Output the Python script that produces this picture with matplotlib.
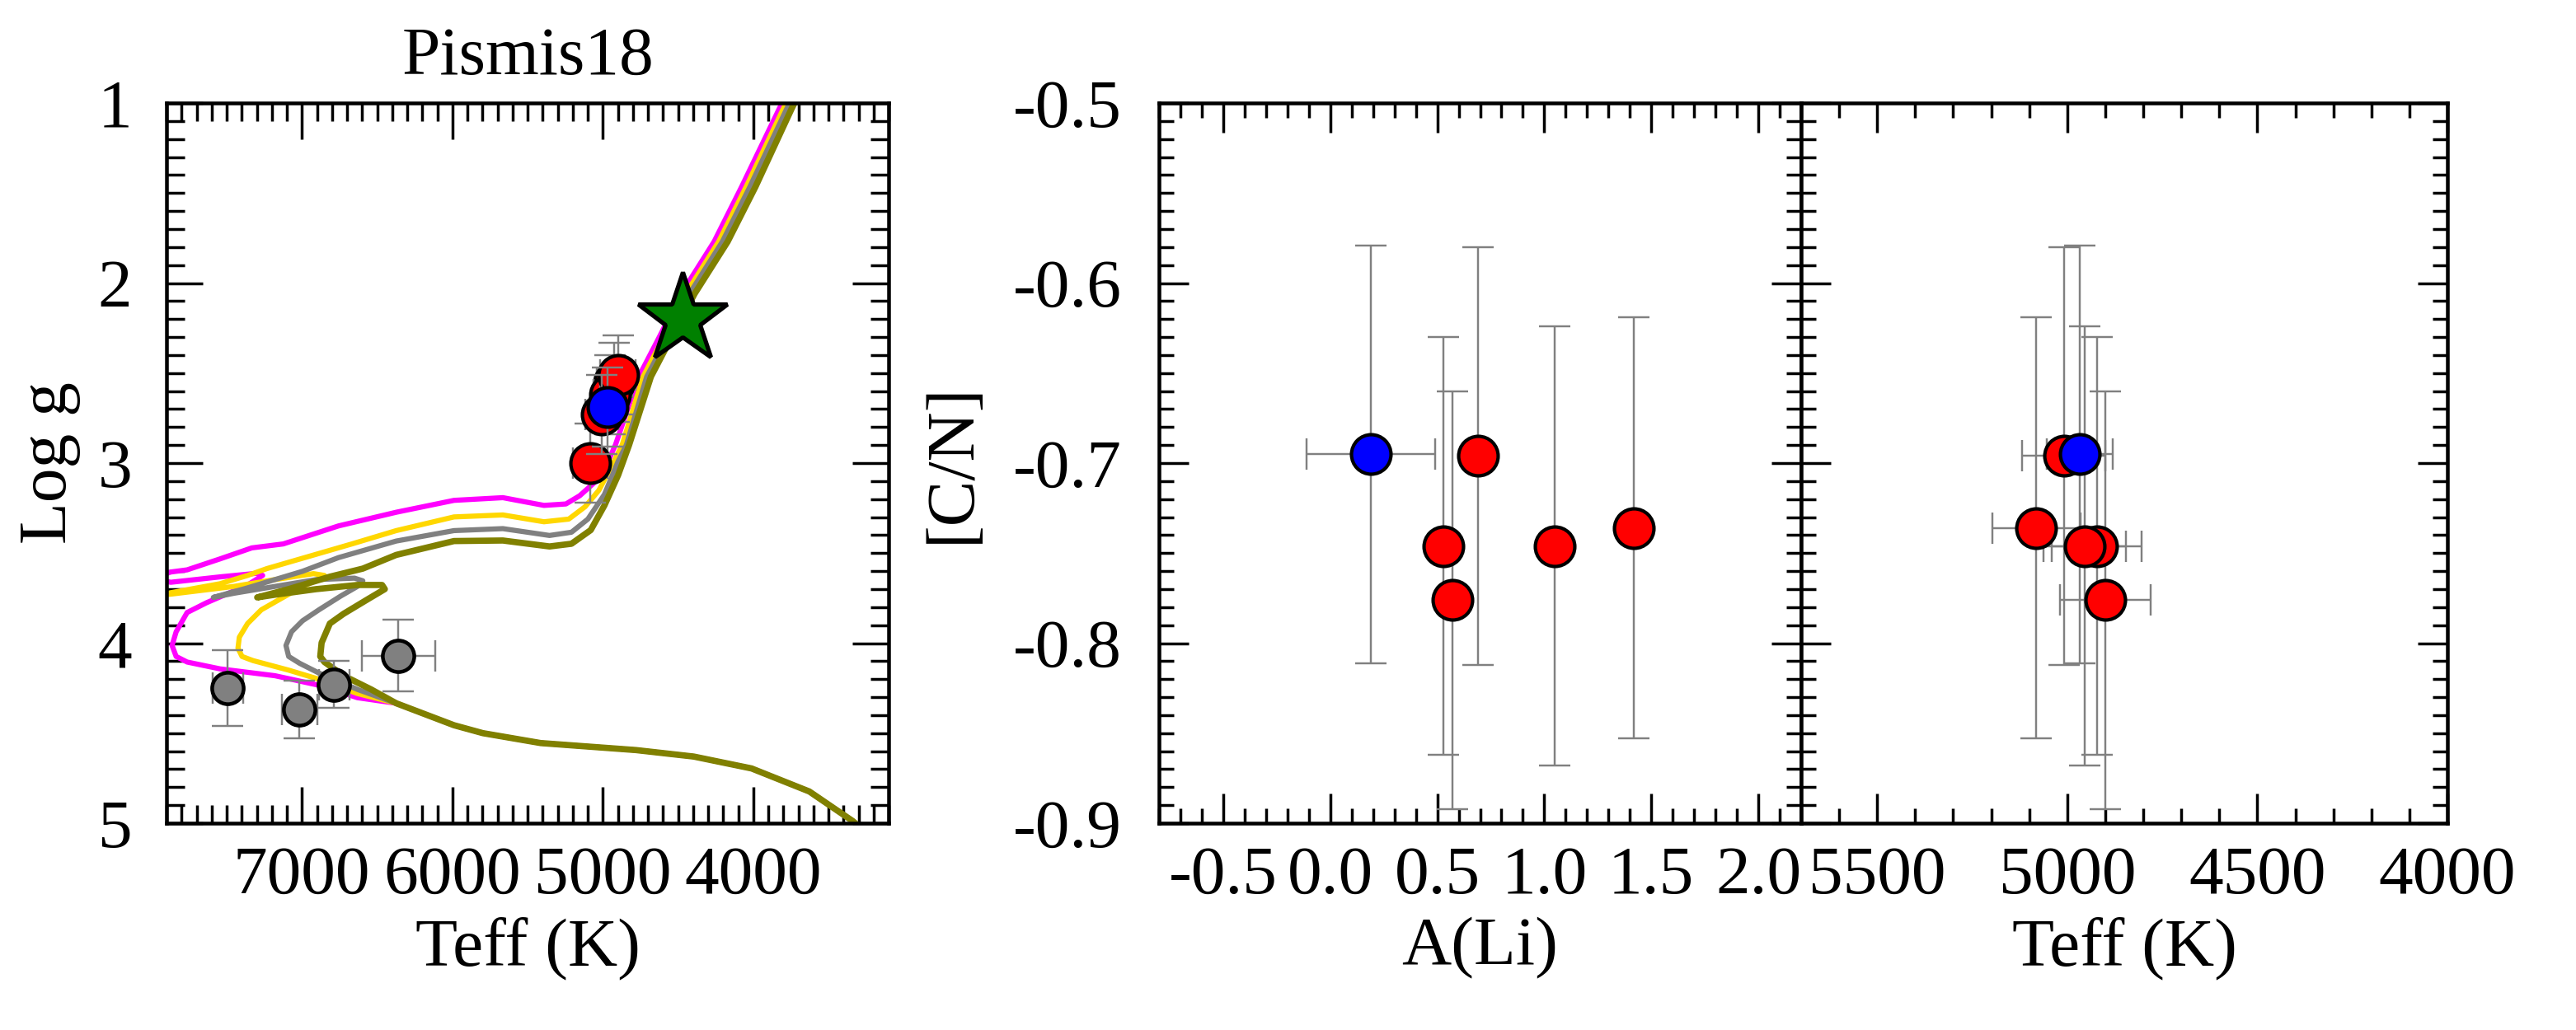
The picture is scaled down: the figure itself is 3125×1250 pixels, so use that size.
import matplotlib
matplotlib.use("Agg")
import matplotlib.pyplot as plt
from matplotlib.ticker import MultipleLocator, FormatStrFormatter

plt.rcParams['font.family'] = ['Liberation Serif', 'DejaVu Serif']
plt.rcParams['axes.unicode_minus'] = False

# ---------------- data ----------------
# common lower main sequence (Teff, logg)
ms_teff = [3250, 3339, 3627, 4011, 4395, 4779, 5413, 5797, 5989, 6181, 6373]
ms_logg = [5.05, 4.988, 4.824, 4.696, 4.630, 4.594, 4.555, 4.500, 4.456, 4.395, 4.334]

iso1_teff = [6631, 6887, 7179, 7544, 7763, 7836, 7863, 7836, 7763, 7635, 7480, 7361, 7261, 7300,
             7544, 7872, 7990, 7872, 7763, 7544, 7333, 7124, 6757, 6373, 5989, 5664, 5391, 5245,
             5153, 5062, 4989, 4916, 4761, 4627, 4479, 4260, 4077, 3822, 3780]
iso1_logg = [4.303, 4.234, 4.181, 4.143, 4.105, 4.074, 4.013, 3.937, 3.830, 3.776, 3.720, 3.677,
             3.624, 3.612, 3.632, 3.662, 3.640, 3.605, 3.593, 3.532, 3.471, 3.449, 3.349, 3.273,
             3.207, 3.192, 3.235, 3.227, 3.181, 3.113, 3.036, 2.899, 2.520, 2.304, 2.060, 1.770,
             1.465, 1.023, 0.960]

iso2_teff = [6631, 6905, 7088, 7325, 7398, 7425, 7416, 7361, 7270, 7142, 6996, 6869, 6850, 6923,
             7179, 7452, 7872, 7940, 7872, 7544, 7361, 7233, 6668, 6373, 5989, 5664, 5391, 5226,
             5117, 5026, 4953, 4871, 4732, 4597, 4449, 4230, 4047, 3795, 3752]
iso2_logg = [4.280, 4.196, 4.150, 4.097, 4.074, 4.028, 3.967, 3.891, 3.815, 3.754, 3.685, 3.639,
             3.624, 3.614, 3.647, 3.685, 3.728, 3.733, 3.720, 3.670, 3.624, 3.586, 3.449, 3.375,
             3.299, 3.288, 3.326, 3.311, 3.242, 3.151, 3.036, 2.899, 2.520, 2.304, 2.060, 1.770,
             1.465, 1.023, 0.960]

iso3_teff = [6631, 6887, 7015, 7088, 7106, 7069, 6996, 6887, 6741, 6631, 6595, 6650, 6905, 7179,
             7452, 7589, 7361, 7179, 6996, 6757, 6373, 5989, 5664, 5354, 5208, 5099, 4989, 4898,
             4843, 4708, 4572, 4424, 4205, 4022, 3772, 3730]
iso3_logg = [4.257, 4.166, 4.112, 4.074, 4.013, 3.937, 3.876, 3.815, 3.738, 3.685, 3.654, 3.639,
             3.647, 3.685, 3.723, 3.746, 3.693, 3.647, 3.601, 3.525, 3.433, 3.375, 3.364, 3.402,
             3.384, 3.311, 3.174, 2.990, 2.899, 2.520, 2.304, 2.060, 1.770, 1.465, 1.023, 0.960]

iso4_teff = [6540, 6723, 6850, 6878, 6869, 6814, 6723, 6558, 6449, 6467, 6631, 6905, 7179, 7297,
             7088, 6814, 6595, 6373, 5989, 5664, 5354, 5208, 5080, 4989, 4898, 4825, 4680, 4545,
             4390, 4170, 3985, 3740, 3700]
iso4_logg = [4.257, 4.181, 4.105, 4.074, 3.998, 3.891, 3.837, 3.754, 3.700, 3.677, 3.677, 3.700,
             3.731, 3.746, 3.700, 3.631, 3.586, 3.510, 3.433, 3.430, 3.463, 3.448, 3.372, 3.235,
             3.067, 2.899, 2.520, 2.304, 2.060, 1.770, 1.465, 1.023, 0.960]

iso_colors = ['#FF00FF', '#FFD700', '#808080', '#808000']
iso_widths = [1.8, 1.8, 1.8, 2.2]

# dwarfs (grey)
dw_teff = [7492, 7016, 6785, 6359]
dw_teff_err = [100, 117, 100, 245]
dw_logg = [4.25, 4.37, 4.23, 4.07]
dw_logg_err = [0.21, 0.16, 0.13, 0.20]

# giants (red)
gi_teff = [5009, 4922, 4900, 4954, 5082]
gi_teff_err = [110, 118, 120, 109, 116]
gi_logg = [2.73, 2.55, 2.51, 2.62, 3.00]
gi_logg_err = [0.22, 0.22, 0.22, 0.22, 0.22]
gi_ali = [0.69, 0.53, 0.57, 1.05, 1.42]
gi_cn = [-0.696, -0.746, -0.776, -0.746, -0.736]
gi_cn_err = [0.116, 0.116, 0.116, 0.122, 0.117]
left_order = [4, 1, 3, 2, 0]

# blue giant
bl_teff = [4967]
bl_teff_err = [87]
bl_logg = [2.69]
bl_logg_err = [0.22]
bl_ali = [0.19]
bl_ali_err = [0.30]
bl_cn = [-0.695]
bl_cn_err = [0.116]

# star symbol
st_teff = [4470]
st_logg = [2.20]

# ---------------- figure ----------------
W, H = 3125, 1250
fig = plt.figure(figsize=(12.5, 5), dpi=250)
ax1 = fig.add_axes([202 / W, 1 - 999 / H, 876 / W, 874 / H])
ax2 = fig.add_axes([1406 / W, 1 - 999 / H, 779 / W, 874 / H])
ax3 = fig.add_axes([2185 / W, 1 - 999 / H, 784 / W, 874 / H], sharey=ax2)

FS = 24
eb = dict(ecolor='#808080', elinewidth=0.7, capsize=5.5, capthick=0.7, ls='none')

# --- left panel ---
for t, g, c, w in zip([iso1_teff, iso2_teff, iso3_teff, iso4_teff],
                      [iso1_logg, iso2_logg, iso3_logg, iso4_logg], iso_colors, iso_widths):
    ax1.plot(ms_teff + t, ms_logg + g, color=c, lw=w, zorder=2,
             solid_joinstyle='round', solid_capstyle='round')

ax1.errorbar(dw_teff, dw_logg, xerr=dw_teff_err, yerr=dw_logg_err, fmt='none', zorder=3, **eb)
ax1.plot(dw_teff, dw_logg, 'o', ms=11, mfc='#808080', mec='black', mew=1.3, ls='none', zorder=4)

for k, i in enumerate(left_order):
    ax1.errorbar([gi_teff[i]], [gi_logg[i]], xerr=[gi_teff_err[i]], yerr=[gi_logg_err[i]],
                 fmt='none', zorder=5 + 2 * k, **eb)
    ax1.plot([gi_teff[i]], [gi_logg[i]], 'o', ms=13.8, mfc='red', mec='black', mew=1.2,
             zorder=6 + 2 * k)
ax1.errorbar(bl_teff, bl_logg, xerr=bl_teff_err, yerr=bl_logg_err, fmt='none', zorder=20, **eb)
ax1.plot(bl_teff, bl_logg, 'o', ms=13.8, mfc='blue', mec='black', mew=1.2, zorder=21)
ax1.plot(st_teff, st_logg, '*', ms=33, mfc='green', mec='black', mew=1.5, zorder=22)

ax1.set_xlim(7900, 3100)
ax1.set_ylim(5, 1)
ax1.xaxis.set_major_locator(MultipleLocator(1000))
ax1.xaxis.set_minor_locator(MultipleLocator(100))
ax1.yaxis.set_major_locator(MultipleLocator(1))
ax1.yaxis.set_minor_locator(MultipleLocator(0.1))
ax1.set_title('Pismis18', fontsize=FS, pad=10)
ax1.set_xlabel('Teff (K)', fontsize=FS, labelpad=3)
ax1.set_ylabel('Log g', fontsize=FS, labelpad=6)
ax1.tick_params(which='both', direction='in', top=True, right=True, width=1.0)
ax1.tick_params(which='major', length=12.7, labelsize=FS)
ax1.tick_params(which='minor', length=6.3)
ax1.tick_params(axis='x', which='major', pad=8)
ax1.tick_params(axis='y', which='major', pad=12)

# --- middle panel ---
for i in range(len(gi_ali)):
    ax2.errorbar([gi_ali[i]], [gi_cn[i]], yerr=[gi_cn_err[i]], fmt='none', zorder=2, **eb)
ax2.errorbar(bl_ali, bl_cn, xerr=bl_ali_err, yerr=bl_cn_err, fmt='none', zorder=2, **eb)
ax2.plot(gi_ali, gi_cn, 'o', ms=13.8, mfc='red', mec='black', mew=1.2, ls='none', zorder=3)
ax2.plot(bl_ali, bl_cn, 'o', ms=13.8, mfc='blue', mec='black', mew=1.2, ls='none', zorder=4)
ax2.set_xlim(-0.8, 2.2)
ax2.set_ylim(-0.9, -0.5)
ax2.xaxis.set_major_locator(MultipleLocator(0.5))
ax2.xaxis.set_minor_locator(MultipleLocator(0.1))
ax2.yaxis.set_major_locator(MultipleLocator(0.1))
ax2.yaxis.set_minor_locator(MultipleLocator(0.01))
ax2.xaxis.set_major_formatter(FormatStrFormatter('%.1f'))
ax2.yaxis.set_major_formatter(FormatStrFormatter('%.1f'))
ax2.set_xlabel('A(Li)', fontsize=FS, labelpad=3)
ax2.set_ylabel('[C/N]', fontsize=FS, labelpad=10)

# --- right panel ---
for i in range(len(gi_teff)):
    ax3.errorbar([gi_teff[i]], [gi_cn[i]], xerr=[gi_teff_err[i]], yerr=[gi_cn_err[i]],
                 fmt='none', zorder=2, **eb)
ax3.errorbar(bl_teff, bl_cn, xerr=bl_teff_err, yerr=bl_cn_err, fmt='none', zorder=2, **eb)
ax3.plot(gi_teff, gi_cn, 'o', ms=13.8, mfc='red', mec='black', mew=1.2, ls='none', zorder=3)
ax3.plot(bl_teff, bl_cn, 'o', ms=13.8, mfc='blue', mec='black', mew=1.2, ls='none', zorder=4)
ax3.set_xlim(5700, 4000)
ax3.xaxis.set_major_locator(MultipleLocator(500))
ax3.xaxis.set_minor_locator(MultipleLocator(100))
ax3.set_xlabel('Teff (K)', fontsize=FS, labelpad=3)

for ax in (ax2, ax3):
    ax.tick_params(which='both', direction='in', top=True, right=True, width=1.0)
    ax.tick_params(which='major', length=10.4, labelsize=FS)
    ax.tick_params(which='minor', length=5.2)
    ax.tick_params(axis='x', which='major', pad=8)
    ax.tick_params(axis='y', which='major', pad=13)
ax3.tick_params(axis='y', labelleft=False)

for ax in (ax1, ax2, ax3):
    for s in ax.spines.values():
        s.set_linewidth(1.3)

fig.savefig('out.png', dpi=250, facecolor='white')
